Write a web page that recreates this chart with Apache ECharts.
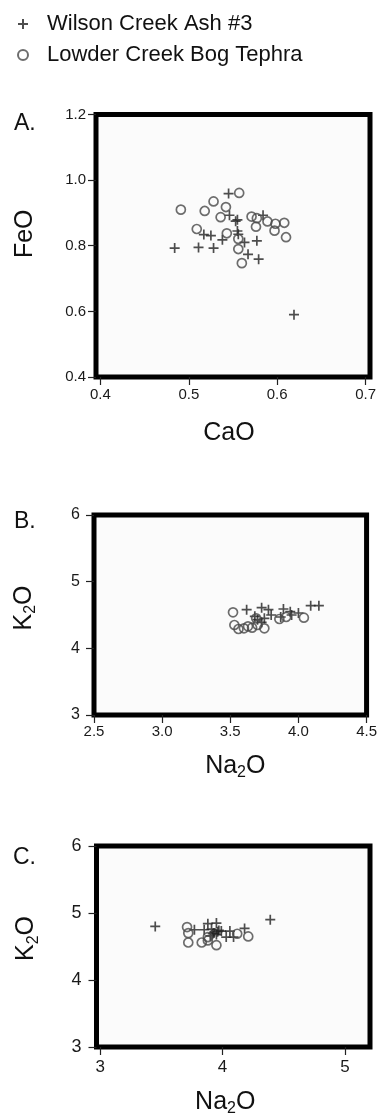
<!DOCTYPE html>
<html>
<head>
<meta charset="utf-8">
<script src="https://cdn.jsdelivr.net/npm/echarts@6/dist/echarts.min.js"></script>
<style>
  html, body { margin: 0; padding: 0; background: #fff; }
  #main { width: 380px; height: 1118px; }
</style>
</head>
<body>
<div id="main"></div>
<script>
// Panel A: CaO vs FeO
const wilsonA = [
  [0.484, 0.793], [0.511, 0.795], [0.528, 0.793], [0.517, 0.834], [0.525, 0.831],
  [0.538, 0.818], [0.545, 0.959], [0.555, 0.879], [0.553, 0.875], [0.563, 0.810],
  [0.577, 0.815], [0.567, 0.774], [0.579, 0.759], [0.584, 0.893], [0.619, 0.590],
  [0.546, 0.893], [0.556, 0.835], [0.555, 0.845]
];
const lowderA = [
  [0.491, 0.910], [0.518, 0.906], [0.528, 0.935], [0.542, 0.918], [0.557, 0.961],
  [0.536, 0.887], [0.509, 0.851], [0.543, 0.838], [0.556, 0.821], [0.556, 0.790],
  [0.560, 0.747], [0.571, 0.889], [0.577, 0.884], [0.576, 0.858], [0.589, 0.874],
  [0.598, 0.867], [0.608, 0.870], [0.597, 0.846], [0.610, 0.826]
];
// Panel B: Na2O vs K2O
const wilsonB = [
  [3.62, 4.58], [3.73, 4.61], [3.78, 4.58], [3.89, 4.59], [3.94, 4.55],
  [4.00, 4.53], [4.09, 4.64], [4.15, 4.64], [3.70, 4.43], [3.73, 4.39],
  [3.75, 4.45], [3.95, 4.50], [3.68, 4.48], [3.80, 4.50], [3.87, 4.47]
];
const lowderB = [
  [3.52, 4.54], [3.53, 4.35], [3.56, 4.29], [3.60, 4.30], [3.66, 4.31],
  [3.70, 4.35], [3.75, 4.30], [3.69, 4.45], [3.86, 4.44], [3.91, 4.47],
  [4.04, 4.46], [3.63, 4.33]
];
// Panel C: Na2O vs K2O
const wilsonC = [
  [3.45, 4.80], [4.39, 4.90], [3.77, 4.75], [3.85, 4.75], [3.88, 4.84],
  [3.95, 4.85], [3.99, 4.73], [4.06, 4.73], [4.09, 4.64], [4.18, 4.77],
  [3.92, 4.69], [3.97, 4.74], [3.91, 4.76], [4.03, 4.64], [3.93, 4.70],
  [3.95, 4.68], [3.90, 4.66], [3.96, 4.72]
];
const lowderC = [
  [3.71, 4.79], [3.72, 4.70], [3.72, 4.56], [3.83, 4.56], [3.95, 4.52],
  [4.21, 4.65], [3.88, 4.64], [4.12, 4.69], [3.88, 4.59]
];
// tick labels
const ticksAx = [0.4, 0.5, 0.6, 0.7];
const ticksAy = [0.4, 0.6, 0.8, 1.0, 1.2];
const ticksBx = [2.5, 3.0, 3.5, 4.0, 4.5];
const ticksBy = [3, 4, 5, 6];
const ticksCx = [3, 4, 5];
const ticksCy = [3, 4, 5, 6];

const names = ["Wilson Creek Ash #3", "Lowder Creek Bog Tephra"];
const FONT = "Liberation Sans";
const crossPath = "path://M0,5L10,5M5,0L5,10";

const nameRich = {
  m: { fontSize: 25, fontFamily: FONT, color: "#111", lineHeight: 30, verticalAlign: "middle" },
  s: { fontSize: 16, fontFamily: FONT, color: "#111", lineHeight: 14, verticalAlign: "bottom" }
};

function makeAxis(type, gridIndex, min, max, ticks, digits, opts) {
  return {
    type: "value",
    gridIndex: gridIndex,
    min: min,
    max: max,
    name: opts.name,
    nameLocation: "middle",
    nameGap: opts.gap,
    nameRotate: type === "y" ? 90 : 0,
    nameTextStyle: {
      fontSize: 25, fontFamily: FONT, color: "#111",
      padding: opts.pad || 0, rich: nameRich
    },
    axisLine: { show: false },
    splitLine: { show: false },
    axisTick: {
      show: true, length: 8, customValues: ticks,
      lineStyle: { color: "#222", width: 1.2 }
    },
    axisLabel: {
      customValues: ticks,
      margin: opts.margin,
      fontSize: opts.fs,
      fontFamily: FONT,
      color: "#1a1a1a",
      formatter: (v) => v.toFixed(digits)
    }
  };
}

function crossSeries(data, i) {
  return {
    name: names[0], type: "scatter", xAxisIndex: i, yAxisIndex: i,
    data: data, symbol: crossPath, symbolSize: 10,
    itemStyle: { color: "transparent", borderColor: "#222", borderWidth: 1.7 }
  };
}
function circleSeries(data, i) {
  return {
    name: names[1], type: "scatter", xAxisIndex: i, yAxisIndex: i,
    data: data, symbol: "circle", symbolSize: 9,
    itemStyle: { color: "transparent", borderColor: "#484848", borderWidth: 1.7 }
  };
}

const gridStyle = { show: true, borderColor: "#000", borderWidth: 5, backgroundColor: "#fbfbfb" };

const chart = echarts.init(document.getElementById("main"));
chart.setOption({
  animation: false,
  textStyle: { fontFamily: FONT },
  title: [
    { text: "A.", left: 9, top: 107, textStyle: { fontSize: 23, fontWeight: "normal", color: "#111", fontFamily: FONT } },
    { text: "B.", left: 9, top: 505, textStyle: { fontSize: 23, fontWeight: "normal", color: "#111", fontFamily: FONT } },
    { text: "C.", left: 8, top: 841, textStyle: { fontSize: 23, fontWeight: "normal", color: "#111", fontFamily: FONT } }
  ],
  legend: {
    data: names,
    orient: "vertical",
    left: 12, top: 8,
    itemWidth: 10, itemHeight: 10, itemGap: 9,
    selectedMode: false,
    textStyle: { fontSize: 22, color: "#111", fontFamily: FONT, padding: [0, 0, 0, 14] }
  },
  grid: [
    Object.assign({ left: 96, top: 114.5, width: 274, height: 262.5 }, gridStyle),
    Object.assign({ left: 94, top: 515, width: 276, height: 200 }, gridStyle),
    Object.assign({ left: 96.5, top: 846, width: 273.5, height: 202 }, gridStyle)
  ],
  xAxis: [
    makeAxis("x", 0, 0.395, 0.705, ticksAx, 1, { name: "CaO", gap: 44, margin: 10, fs: 15, pad: [0, 8, 0, 0] }),
    makeAxis("x", 1, 2.5, 4.5, ticksBx, 1, { name: "{m|Na}{s|2}{m|O}", gap: 36, margin: 9, fs: 15, pad: [0, 0, 0, 10] }),
    makeAxis("x", 2, 2.97, 5.205, ticksCx, 0, { name: "{m|Na}{s|2}{m|O}", gap: 40, margin: 12, fs: 17, pad: [0, 16, 0, 0] })
  ],
  yAxis: [
    makeAxis("y", 0, 0.4, 1.2, ticksAy, 1, { name: "FeO", gap: 58, margin: 10, fs: 15, pad: [0, 0, 0, 24] }),
    makeAxis("y", 1, 3, 6, ticksBy, 0, { name: "{m|K}{s|2}{m|O}", gap: 55, margin: 14, fs: 16, pad: [0, 0, 0, 14] }),
    makeAxis("y", 2, 3, 6, ticksCy, 0, { name: "{m|K}{s|2}{m|O}", gap: 55, margin: 15, fs: 18, pad: [0, 0, 0, 16] })
  ],
  series: [
    crossSeries(wilsonA, 0), circleSeries(lowderA, 0),
    crossSeries(wilsonB, 1), circleSeries(lowderB, 1),
    crossSeries(wilsonC, 2), circleSeries(lowderC, 2)
  ]
});
</script>
</body>
</html>
